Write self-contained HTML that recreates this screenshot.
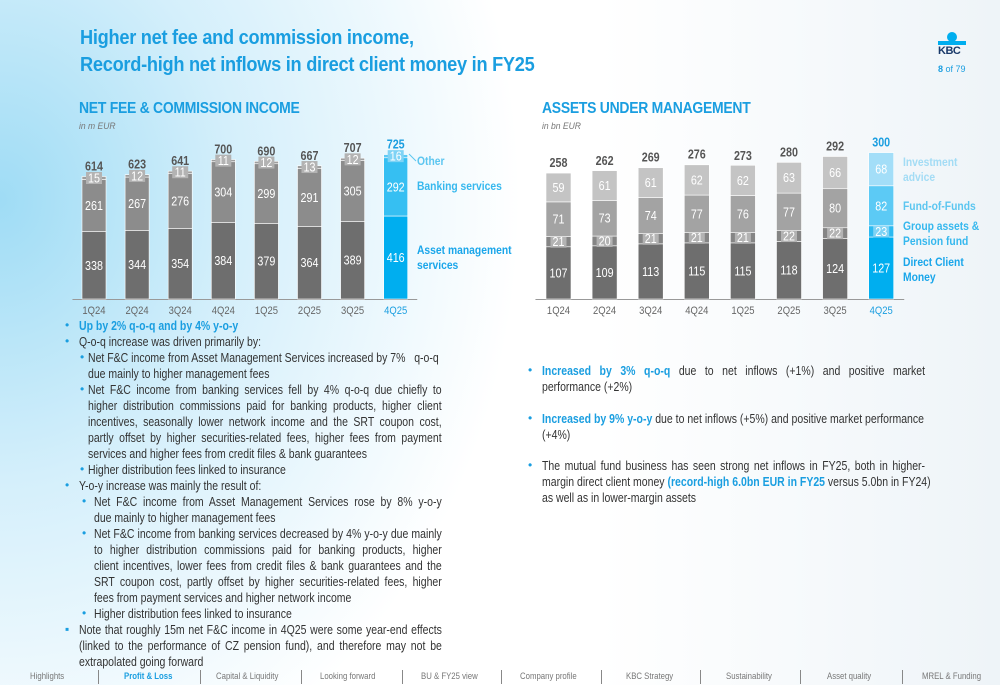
<!DOCTYPE html>
<html><head><meta charset="utf-8">
<style>
html,body{margin:0;padding:0}
body{width:1000px;height:685px;position:relative;overflow:hidden;font-family:"Liberation Sans",sans-serif;color:#333;
background:radial-gradient(ellipse 520px 620px at 0px 200px,#9fdcf5 0%,#d4effb 45%,rgba(255,255,255,0) 100%),linear-gradient(90deg,#fff 0%,#fff 60%,#eef4f8 100%);}
.t{position:absolute;white-space:nowrap;transform-origin:0 0}
.title{left:80px;font-weight:bold;font-size:20px;color:#1a9ee0;letter-spacing:-0.3px;transform:scaleX(0.91)}
.h{font-weight:bold;font-size:15.5px;color:#1a9ee0;letter-spacing:-0.3px;transform:scaleX(0.9)}
.sub{font-size:9.5px;color:#777;font-style:italic;transform:scaleX(0.9)}
.ln{position:absolute;font-size:12.5px;line-height:16px;color:#333;white-space:nowrap;transform:scaleX(0.84);transform-origin:0 0}
.j{text-align:justify;text-align-last:justify;white-space:normal}
.b{color:#1a9ee0;font-weight:bold}
.dot{position:absolute;font-size:12px;color:#1a9ee0}
.nav{position:absolute;top:671px;font-size:9.5px;color:#777;white-space:nowrap;transform:scaleX(0.82);transform-origin:0 0}
.sep{position:absolute;top:670px;width:1px;height:14px;background:#888}
svg{position:absolute;left:0;top:0}
</style></head><body>
<div class="t title" style="top:27px">Higher net fee and commission income,</div>
<div class="t title" style="top:54px">Record-high net inflows in direct client money in FY25</div>
<div style="position:absolute;left:938px;top:32px;width:28px;height:28px">
<div style="position:absolute;left:9px;top:0;width:10px;height:10px;border-radius:50%;background:#00aeef"></div>
<div style="position:absolute;left:0;top:9px;width:28px;height:4px;background:#00aeef"></div>
<div style="position:absolute;left:0;top:13px;font:bold 11px 'Liberation Sans',sans-serif;color:#1a3a6a;letter-spacing:-0.5px">KBC</div></div>
<div class="t" style="left:938px;top:64px;font-size:9px;color:#1a9ee0"><b>8</b> of 79</div>

<div class="t h" style="left:79px;top:100px">NET FEE &amp; COMMISSION INCOME</div>
<div class="t sub" style="left:79px;top:121px">in m EUR</div>
<div class="t h" style="left:542px;top:100px">ASSETS UNDER MANAGEMENT</div>
<div class="t sub" style="left:542px;top:121px">in bn EUR</div>

<svg width="1000" height="330" id="charts"></svg>

<div>
<span class="dot" style="left:65px;top:318px">•</span><div class="ln b" style="left:79px;top:318px">Up by 2% q-o-q and by 4% y-o-y</div>
<span class="dot" style="left:65px;top:334px">•</span><div class="ln" style="left:79px;top:334px">Q-o-q increase was driven primarily by:</div>
<span class="dot" style="left:80px;top:350px">•</span><div class="ln" style="left:88px;top:350px">Net F&amp;C income from Asset Management Services increased by 7% &nbsp; q-o-q</div>
<div class="ln" style="left:88px;top:366px">due mainly to higher management fees</div>
<span class="dot" style="left:80px;top:382px">•</span><div class="ln j" style="left:88px;top:382px;width:421px">Net F&amp;C income from banking services fell by 4% q-o-q due chiefly to</div>
<div class="ln j" style="left:88px;top:398px;width:421px">higher distribution commissions paid for banking products, higher client</div>
<div class="ln j" style="left:88px;top:414px;width:421px">incentives, seasonally lower network income and the SRT coupon cost,</div>
<div class="ln j" style="left:88px;top:430px;width:421px">partly offset by higher securities-related fees, higher fees from payment</div>
<div class="ln" style="left:88px;top:446px">services and higher fees from credit files &amp; bank guarantees</div>
<span class="dot" style="left:80px;top:462px">•</span><div class="ln" style="left:88px;top:462px">Higher distribution fees linked to insurance</div>
<span class="dot" style="left:65px;top:478px">•</span><div class="ln" style="left:79px;top:478px">Y-o-y increase was mainly the result of:</div>
<span class="dot" style="left:82px;top:494px">•</span><div class="ln j" style="left:94px;top:494px;width:414px">Net F&amp;C income from Asset Management Services rose by 8% y-o-y</div>
<div class="ln" style="left:94px;top:510px">due mainly to higher management fees</div>
<span class="dot" style="left:82px;top:526px">•</span><div class="ln j" style="left:94px;top:526px;width:414px">Net F&amp;C income from banking services decreased by 4% y-o-y due mainly</div>
<div class="ln j" style="left:94px;top:542px;width:414px">to higher distribution commissions paid for banking products, higher</div>
<div class="ln j" style="left:94px;top:558px;width:414px">client incentives, lower fees from credit files &amp; bank guarantees and the</div>
<div class="ln j" style="left:94px;top:574px;width:414px">SRT coupon cost, partly offset by higher securities-related fees, higher</div>
<div class="ln" style="left:94px;top:590px">fees from payment services and higher network income</div>
<span class="dot" style="left:82px;top:606px">•</span><div class="ln" style="left:94px;top:606px">Higher distribution fees linked to insurance</div>
<span class="dot" style="left:65px;top:622px">▪</span><div class="ln j" style="left:79px;top:622px;width:432px">Note that roughly 15m net F&amp;C income in 4Q25 were some year-end effects</div>
<div class="ln j" style="left:79px;top:638px;width:432px">(linked to the performance of CZ pension fund), and therefore may not be</div>
<div class="ln" style="left:79px;top:654px">extrapolated going forward</div>
</div>

<div>
<span class="dot" style="left:528px;top:363px">•</span><div class="ln j" style="left:542px;top:363px;width:456px"><span class="b">Increased by 3% q-o-q</span> due to net inflows (+1%) and positive market</div>
<div class="ln" style="left:542px;top:379px">performance (+2%)</div>
<span class="dot" style="left:528px;top:411px">•</span><div class="ln" style="left:542px;top:411px"><span class="b">Increased by 9% y-o-y</span> due to net inflows (+5%) and positive market performance</div>
<div class="ln" style="left:542px;top:427px">(+4%)</div>
<span class="dot" style="left:528px;top:458px">•</span><div class="ln j" style="left:542px;top:458px;width:456px">The mutual fund business has seen strong net inflows in FY25, both in higher-</div>
<div class="ln" style="left:542px;top:474px">margin direct client money <span class="b">(record-high 6.0bn EUR in FY25</span> versus 5.0bn in FY24)</div>
<div class="ln" style="left:542px;top:490px">as well as in lower-margin assets</div>
</div>

<div>
<div class="nav" style="left:30px">Highlights</div>
<div class="sep" style="left:98px"></div>
<div class="nav" style="left:124px;color:#1a9ee0;font-weight:bold">Profit &amp; Loss</div>
<div class="sep" style="left:200px"></div>
<div class="nav" style="left:216px">Capital &amp; Liquidity</div>
<div class="sep" style="left:301px"></div>
<div class="nav" style="left:320px">Looking forward</div>
<div class="sep" style="left:402px"></div>
<div class="nav" style="left:421px">BU &amp; FY25 view</div>
<div class="sep" style="left:501px"></div>
<div class="nav" style="left:520px">Company profile</div>
<div class="sep" style="left:601px"></div>
<div class="nav" style="left:626px">KBC Strategy</div>
<div class="sep" style="left:700px"></div>
<div class="nav" style="left:726px">Sustainability</div>
<div class="sep" style="left:800px"></div>
<div class="nav" style="left:827px">Asset quality</div>
<div class="sep" style="left:902px"></div>
<div class="nav" style="left:922px">MREL &amp; Funding</div>
</div>

<script>
const quarters=["1Q24","2Q24","3Q24","4Q24","1Q25","2Q25","3Q25","4Q25"];
const feeAsset=[338,344,354,384,379,364,389,416];
const feeBanking=[261,267,276,304,299,291,305,292];
const feeOther=[15,12,11,11,12,13,12,16];
const feeTotal=[614,623,641,700,690,667,707,725];
const aumDirect=[107,109,113,115,115,118,124,127];
const aumGroup=[21,20,21,21,21,22,22,23];
const aumFoF=[71,73,74,77,76,77,80,82];
const aumAdvice=[59,61,61,62,62,63,66,68];
const aumTotal=[258,262,269,276,273,280,292,300];

const NS="http://www.w3.org/2000/svg";
const svg=document.getElementById('charts');
const SX=0.86;
function mk(tag,attrs,txt){const e=document.createElementNS(NS,tag);for(const k in attrs)e.setAttribute(k,attrs[k]);if(txt!==undefined)e.textContent=txt;svg.appendChild(e);return e;}
function txt(x,y,attrs,s){attrs.x=x/SX;attrs.y=y;attrs.transform='scale('+SX+',1)';return mk('text',attrs,s);}
const base=299;
function drawChart(o){
  const x=i=>o.x0+i*o.pitch;
  const y=v=>base-v*o.scale;
  const ax=mk('line',{x1:o.x0-o.pitch/2,x2:x(7)+o.pitch/2,y1:base+0.5,y2:base+0.5,stroke:'#999','stroke-width':1});
  
  
  quarters.forEach((q,i)=>{
    let cum=0;
    const hl=i===7;
    o.series.forEach((s,si)=>{
      const v=s.vals[i];
      const top=y(cum+v),h=v*o.scale;
      const r=mk('rect',{x:x(i)-o.w/2,y:top,width:o.w,height:h,fill:hl?s.hc:s.c,stroke:'#fff','stroke-width':0.6});
      
      
      if(s.box){
        const b=mk('rect',{x:x(i)-8,y:top+h/2-6,width:16,height:12,fill:hl?'#7fd3f5':'#b3b3b3'});
        
        
      }
      const t=txt(x(i),top+h/2+4.5,{'text-anchor':'middle','font-size':12.5,fill:'#fff','font-family':'Liberation Sans, sans-serif'},v);
      
      
      cum+=v;
    });
    const tt=txt(x(i),y(o.totals[i])-6,{'text-anchor':'middle','font-size':12.5,'font-weight':'bold',fill:hl?'#1a9ee0':'#555','font-family':'Liberation Sans, sans-serif'},o.totals[i]);
    
    
    const xl=txt(x(i),314,{'text-anchor':'middle','font-size':11,fill:hl?'#1a9ee0':'#666','font-family':'Liberation Sans, sans-serif'},q);
    
    
  });
  o.legend.forEach(l=>{l.lines.forEach((ln,k)=>{
    const t=txt(o.lx,l.y+k*15,{'font-size':12,'font-weight':'bold',fill:l.c,'font-family':'Liberation Sans, sans-serif'},ln);
    
    
  });});
}
drawChart({name:'fee',x0:94,pitch:43.1,w:24,scale:0.1995,totals:feeTotal,lx:417,
 series:[{key:'asset',vals:feeAsset,c:'#6e6e6e',hc:'#00aeef'},{key:'banking',vals:feeBanking,c:'#8c8c8c',hc:'#36bff2'},{key:'other',vals:feeOther,c:'#9e9e9e',hc:'#5ccaf5',box:true}],
 legend:[{key:'other',lines:['Other'],y:165,c:'#5cc6f0'},{key:'banking',lines:['Banking services'],y:190,c:'#36b8ee'},{key:'asset',lines:['Asset management','services'],y:254,c:'#1aa6ea'}]});
drawChart({name:'aum',x0:558.5,pitch:46.1,w:25,scale:0.488,totals:aumTotal,lx:903,
 series:[{key:'direct',vals:aumDirect,c:'#6e6e6e',hc:'#00aeef'},{key:'group',vals:aumGroup,c:'#858585',hc:'#2cbaf1',box:true},{key:'fof',vals:aumFoF,c:'#a3a3a3',hc:'#5ccaf5'},{key:'advice',vals:aumAdvice,c:'#c4c4c4',hc:'#a3def8'}],
 legend:[{key:'advice',lines:['Investment','advice'],y:166,c:'#a3dcf5'},{key:'fof',lines:['Fund-of-Funds'],y:210,c:'#5cc6f0'},{key:'group',lines:['Group assets &','Pension fund'],y:230,c:'#36b8ee'},{key:'direct',lines:['Direct Client','Money'],y:266,c:'#1aa6ea'}]});
const ol=mk('line',{x1:409,y1:154,x2:416,y2:161,stroke:'#5cc6f0','stroke-width':1});


</script>
</body></html>
